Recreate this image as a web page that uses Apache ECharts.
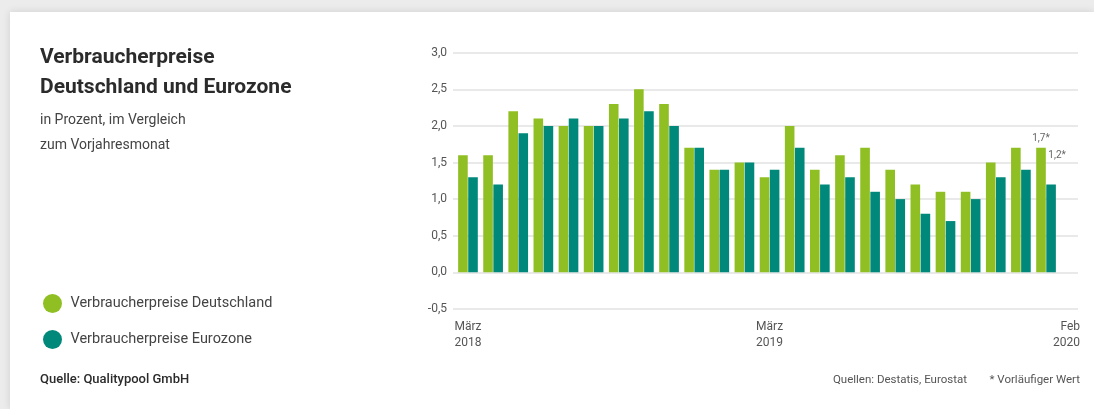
<!DOCTYPE html>
<html>
<head>
<meta charset="utf-8">
<script src="https://cdn.jsdelivr.net/npm/echarts@6/dist/echarts.min.js"></script>
<style>
  html, body { margin: 0; padding: 0; background: #ececec; width: 1094px; height: 409px; overflow: hidden; }
  #card { position: absolute; left: 10px; top: 12px; right: 0; bottom: 0; background: #fff; box-shadow: 0 0 8px rgba(0,0,0,0.12); }
  #chart { position: absolute; left: 0; top: 0; width: 1094px; height: 409px; }
</style>
</head>
<body>
<div id="card"></div>
<div id="chart"></div>
<script>
// ---- data ----
const months = [
  'März 2018','Apr 2018','Mai 2018','Juni 2018','Juli 2018','Aug 2018','Sep 2018','Okt 2018','Nov 2018','Dez 2018','Jan 2019','Feb 2019',
  'März 2019','Apr 2019','Mai 2019','Juni 2019','Juli 2019','Aug 2019','Sep 2019','Okt 2019','Nov 2019','Dez 2019','Jan 2020','Feb 2020'
];
const deutschland = [1.6,1.6,2.2,2.1,2.0,2.0,2.3,2.5,2.3,1.7,1.4,1.5,1.3,2.0,1.4,1.6,1.7,1.4,1.2,1.1,1.1,1.5,1.7,1.7];
const eurozone    = [1.3,1.2,1.9,2.0,2.1,2.0,2.1,2.2,2.0,1.7,1.4,1.5,1.4,1.7,1.2,1.3,1.1,1.0,0.8,0.7,1.0,1.3,1.4,1.2];
const labelledMonths = [0, 12, 23];
const provisionalIndex = 23;
const yTicks = { min: -0.5, max: 3.0, interval: 0.5 };
const seriesNames = ['Verbraucherpreise Deutschland', 'Verbraucherpreise Eurozone'];

const FONT = 'Roboto';
const GREEN = '#8fbf22';
const TEAL = '#00897a';
const fmt = v => v.toFixed(1).replace('.', ',');

const chart = echarts.init(document.getElementById('chart'), null, { renderer: 'canvas' });

function provisionalLabel(extraOffset) {
  return {
    show: true,
    position: 'top',
    distance: 4,
    offset: extraOffset,
    color: '#666',
    fontFamily: FONT,
    fontSize: 10,
    formatter: p => p.dataIndex === provisionalIndex ? fmt(p.value) + '*' : ''
  };
}

chart.setOption({
  animation: false,
  textStyle: { fontFamily: FONT },
  title: [
    { text: 'Verbraucherpreise\nDeutschland und Eurozone', left: 40, top: 43, padding: 0,
      textStyle: { fontFamily: FONT, fontWeight: 'bold', fontSize: 21, lineHeight: 30, color: '#2b2b2b' } },
    { text: 'in Prozent, im Vergleich\nzum Vorjahresmonat', left: 40, top: 108, padding: 0,
      textStyle: { fontFamily: FONT, fontWeight: 'normal', fontSize: 14, lineHeight: 25, color: '#444' } },
    { text: 'Quelle: Qualitypool GmbH', left: 40, top: 373, padding: 0,
      textStyle: { fontFamily: FONT, fontWeight: 500, fontSize: 13, color: '#2b2b2b' } },
    { text: 'Quellen: Destatis, Eurostat', right: 127, top: 374, padding: 0,
      textStyle: { fontFamily: FONT, fontWeight: 'normal', fontSize: 11.5, color: '#555' } },
    { text: '* Vorläufiger Wert', right: 14, top: 374, padding: 0,
      textStyle: { fontFamily: FONT, fontWeight: 'normal', fontSize: 11.5, color: '#555' } }
  ],
  legend: {
    orient: 'vertical', left: 38, top: 289, itemGap: 17,
    itemWidth: 26, itemHeight: 19, icon: 'circle',
    textStyle: { fontFamily: FONT, fontSize: 14.5, color: '#444' },
    data: seriesNames
  },
  grid: [
    { left: 455.4, width: 603.2, top: 52.7, height: 256.2 },
    { left: 453, right: 16, top: 52.7, height: 256.2 }
  ],
  xAxis: [
    {
      type: 'category', gridIndex: 0, data: months,
      axisLine: { show: false }, axisTick: { show: false },
      axisLabel: {
        interval: 0, margin: 10,
        formatter: (v, i) => {
          if (!labelledMonths.includes(i)) return '';
          const [m, y] = v.split(' ');
          const st = i === labelledMonths[labelledMonths.length - 1] ? 'r' : 'c';
          return `{${st}|${m}}\n{${st}|${y}}`;
        },
        rich: {
          c: { fontFamily: FONT, fontSize: 12, lineHeight: 16, color: '#555' },
          r: { fontFamily: FONT, fontSize: 12, lineHeight: 16, color: '#555', width: 68, align: 'right' }
        }
      }
    },
    { type: 'value', gridIndex: 1, show: false, min: 0, max: 1 }
  ],
  yAxis: [
    { type: 'value', gridIndex: 0, show: false, min: yTicks.min, max: yTicks.max, interval: yTicks.interval },
    {
      type: 'value', gridIndex: 1, min: yTicks.min, max: yTicks.max, interval: yTicks.interval,
      axisLine: { show: false }, axisTick: { show: false },
      splitLine: { lineStyle: { color: '#e2e2e2', width: 1.5 } },
      axisLabel: { formatter: v => fmt(v), color: '#555', fontFamily: FONT, fontSize: 12, margin: 6 }
    }
  ],
  series: [
    { name: seriesNames[0], type: 'bar', xAxisIndex: 0, yAxisIndex: 0, data: deutschland,
      itemStyle: { color: GREEN }, barWidth: 9.6, barGap: '5%',
      label: provisionalLabel([0, 0]) },
    { name: seriesNames[1], type: 'bar', xAxisIndex: 0, yAxisIndex: 0, data: eurozone,
      itemStyle: { color: TEAL }, barWidth: 9.6, barGap: '5%',
      label: provisionalLabel([6, -20]) }
  ]
});
</script>
</body>
</html>
